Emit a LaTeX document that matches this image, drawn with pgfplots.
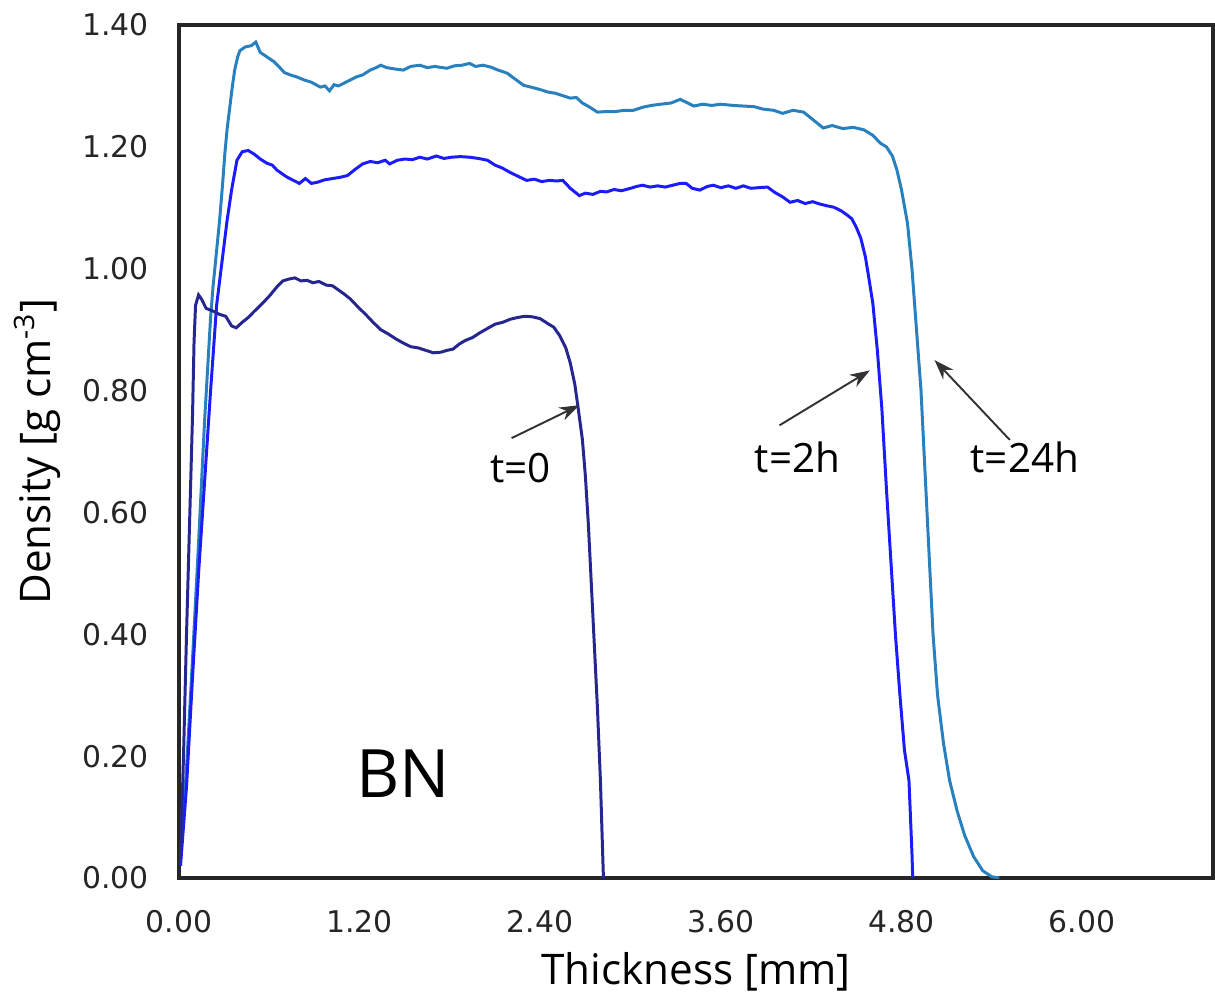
\documentclass[border=0pt]{standalone}
\usepackage{fontspec}
\setmainfont{Open Sans}
\newfontfamily\tickfont{DejaVu Sans}
\usepackage{pgfplots}
\pgfplotsset{compat=1.18}
\usetikzlibrary{arrows.meta,calc}

\definecolor{tzero}{RGB}{38,38,145}
\definecolor{ttwo}{RGB}{28,28,250}
\definecolor{tday}{RGB}{40,128,190}

% density profiles
\pgfplotstableread{
x y
0.01 0.03
0.03 0.20
0.05 0.40
0.07 0.58
0.09 0.76
0.10 0.88
0.11 0.94
0.13 0.957
0.15 0.950
0.18 0.935
0.23 0.930
0.27 0.925
0.31 0.922
0.35 0.906
0.38 0.903
0.42 0.912
0.46 0.920
0.50 0.930
0.55 0.942
0.60 0.955
0.65 0.970
0.69 0.980
0.73 0.983
0.77 0.985
0.81 0.980
0.85 0.981
0.89 0.977
0.93 0.979
0.98 0.973
1.02 0.972
1.06 0.965
1.10 0.958
1.14 0.950
1.19 0.937
1.24 0.925
1.29 0.912
1.34 0.900
1.39 0.893
1.44 0.885
1.49 0.878
1.54 0.872
1.59 0.870
1.64 0.866
1.69 0.862
1.74 0.863
1.78 0.866
1.82 0.868
1.86 0.876
1.90 0.882
1.95 0.887
2.00 0.895
2.05 0.902
2.10 0.909
2.15 0.912
2.20 0.917
2.25 0.920
2.30 0.922
2.35 0.921
2.40 0.918
2.45 0.910
2.49 0.904
2.53 0.890
2.57 0.870
2.60 0.845
2.63 0.810
2.65 0.775
2.68 0.720
2.70 0.660
2.72 0.580
2.74 0.480
2.76 0.380
2.78 0.280
2.80 0.160
2.81 0.080
2.82 0.000
}\tzero

\pgfplotstableread{
x y
0.01 0.02
0.05 0.15
0.09 0.33
0.13 0.50
0.17 0.65
0.21 0.80
0.25 0.94
0.29 1.02
0.32 1.08
0.35 1.13
0.385 1.178
0.42 1.192
0.46 1.194
0.50 1.188
0.54 1.180
0.585 1.173
0.62 1.170
0.65 1.162
0.69 1.155
0.72 1.150
0.76 1.145
0.80 1.140
0.84 1.148
0.88 1.140
0.92 1.142
0.97 1.146
1.02 1.148
1.07 1.150
1.12 1.153
1.17 1.163
1.22 1.172
1.27 1.176
1.32 1.174
1.37 1.178
1.40 1.172
1.45 1.178
1.50 1.180
1.55 1.179
1.60 1.183
1.65 1.180
1.71 1.185
1.76 1.181
1.81 1.183
1.87 1.184
1.93 1.183
1.99 1.181
2.05 1.178
2.10 1.170
2.15 1.165
2.20 1.158
2.25 1.152
2.31 1.145
2.36 1.147
2.41 1.143
2.46 1.145
2.51 1.144
2.55 1.145
2.60 1.132
2.66 1.120
2.70 1.124
2.75 1.122
2.80 1.127
2.84 1.126
2.89 1.130
2.94 1.128
3.00 1.132
3.04 1.135
3.08 1.137
3.13 1.134
3.18 1.136
3.23 1.134
3.28 1.137
3.33 1.140
3.37 1.140
3.41 1.132
3.46 1.129
3.51 1.135
3.55 1.137
3.60 1.133
3.65 1.136
3.70 1.132
3.75 1.136
3.80 1.132
3.85 1.133
3.91 1.134
3.96 1.125
4.01 1.118
4.06 1.109
4.11 1.112
4.16 1.107
4.21 1.110
4.26 1.106
4.31 1.103
4.35 1.101
4.40 1.095
4.44 1.088
4.47 1.082
4.50 1.068
4.53 1.050
4.56 1.020
4.58 0.990
4.61 0.943
4.64 0.866
4.67 0.770
4.70 0.640
4.73 0.520
4.76 0.400
4.79 0.300
4.82 0.210
4.85 0.160
4.86 0.100
4.87 0.040
4.875 0.000
}\ttwo

\pgfplotstableread{
x y
0.01 0.03
0.05 0.18
0.09 0.36
0.13 0.55
0.17 0.75
0.21 0.92
0.226 0.97
0.25 1.03
0.27 1.08
0.29 1.14
0.305 1.19
0.32 1.23
0.34 1.27
0.355 1.30
0.37 1.326
0.39 1.348
0.405 1.358
0.44 1.364
0.48 1.366
0.51 1.372
0.54 1.355
0.57 1.350
0.60 1.345
0.63 1.340
0.67 1.330
0.70 1.322
0.74 1.318
0.78 1.315
0.83 1.310
0.88 1.306
0.94 1.298
0.97 1.300
1.00 1.292
1.03 1.302
1.06 1.300
1.10 1.305
1.14 1.310
1.18 1.315
1.22 1.318
1.27 1.326
1.31 1.330
1.34 1.334
1.38 1.330
1.43 1.328
1.49 1.326
1.54 1.332
1.60 1.334
1.65 1.330
1.70 1.332
1.75 1.330
1.78 1.329
1.83 1.333
1.88 1.334
1.93 1.337
1.97 1.332
2.02 1.334
2.07 1.331
2.12 1.326
2.18 1.321
2.24 1.310
2.29 1.301
2.34 1.298
2.40 1.294
2.45 1.290
2.50 1.288
2.55 1.284
2.60 1.280
2.64 1.281
2.68 1.272
2.73 1.265
2.78 1.257
2.84 1.258
2.90 1.258
2.96 1.260
3.02 1.260
3.08 1.265
3.14 1.268
3.20 1.270
3.27 1.272
3.33 1.278
3.38 1.272
3.42 1.267
3.48 1.270
3.54 1.268
3.60 1.270
3.68 1.268
3.75 1.267
3.82 1.266
3.88 1.262
3.95 1.260
4.01 1.255
4.08 1.260
4.15 1.257
4.21 1.245
4.28 1.231
4.34 1.235
4.41 1.230
4.48 1.232
4.55 1.228
4.61 1.219
4.66 1.206
4.70 1.200
4.74 1.185
4.77 1.162
4.80 1.130
4.84 1.075
4.87 1.000
4.90 0.900
4.93 0.800
4.95 0.700
4.97 0.600
4.99 0.500
5.01 0.400
5.04 0.300
5.08 0.220
5.12 0.160
5.17 0.110
5.22 0.070
5.28 0.035
5.34 0.012
5.40 0.002
5.45 0.000
}\tday

\begin{document}
\begin{tikzpicture}
\begin{axis}[
    scale only axis,
    width=10.34cm, height=8.53cm,
    xmin=0, xmax=6.87,
    ymin=0, ymax=1.4,
    axis line style={black!85, line width=0.9pt},
    major tick length=0pt,
    xtick={0,1.2,2.4,3.6,4.8,6.0},
    ytick={0,0.2,0.4,0.6,0.8,1.0,1.2,1.4},
    /pgf/number format/fixed,
    /pgf/number format/fixed zerofill,
    /pgf/number format/precision=2,
    /pgf/number format/assume math mode=true,
    tick label style={font=\tickfont\fontsize{8.5}{10}\selectfont, text=black!85},
    xticklabel shift=0.2cm,
    yticklabel shift=0.18cm,
    xlabel={Thickness [mm]},
    ylabel={Density [g cm\textsuperscript{-3}]},
    label style={font=\fontsize{12}{14}\selectfont},
    xlabel style={at={(axis description cs:0.5,-0.11)}, anchor=center},
    ylabel style={at={(axis description cs:-0.137,0.5)}, anchor=center},
]
\addplot[tday, line width=0.85pt] table {\tday};
\addplot[ttwo, line width=0.85pt] table {\ttwo};
\addplot[tzero, line width=0.85pt] table {\tzero};

\draw[black!80, line width=0.55pt, -{Stealth[length=0.2cm, width=0.14cm]}] (axis cs:2.21,0.722) -- (axis cs:2.66,0.776);
\draw[black!80, line width=0.55pt, -{Stealth[length=0.2cm, width=0.14cm]}] (axis cs:3.99,0.743) -- (axis cs:4.59,0.833);
\draw[black!80, line width=0.55pt, -{Stealth[length=0.2cm, width=0.14cm]}] (axis cs:5.52,0.719) -- (axis cs:5.02,0.850);

\node[font=\fontsize{11.5}{13}\selectfont] at (axis cs:2.27,0.673) {t=0};
\node[font=\fontsize{11.5}{13}\selectfont] at (axis cs:4.11,0.691) {t=2h};
\node[font=\fontsize{11.5}{13}\selectfont] at (axis cs:5.62,0.691) {t=24h};
\node[font=\fontsize{19}{22}\selectfont] at (axis cs:1.49,0.172) {BN};

\coordinate (sw) at (rel axis cs:0,0);
\coordinate (ne) at (rel axis cs:1,1);
\end{axis}
\pgfresetboundingbox
\path[use as bounding box] ($(sw)+(-1.79cm,-1.20cm)$) rectangle ($(ne)+(0.02cm,0.25cm)$);
\end{tikzpicture}
\end{document}
